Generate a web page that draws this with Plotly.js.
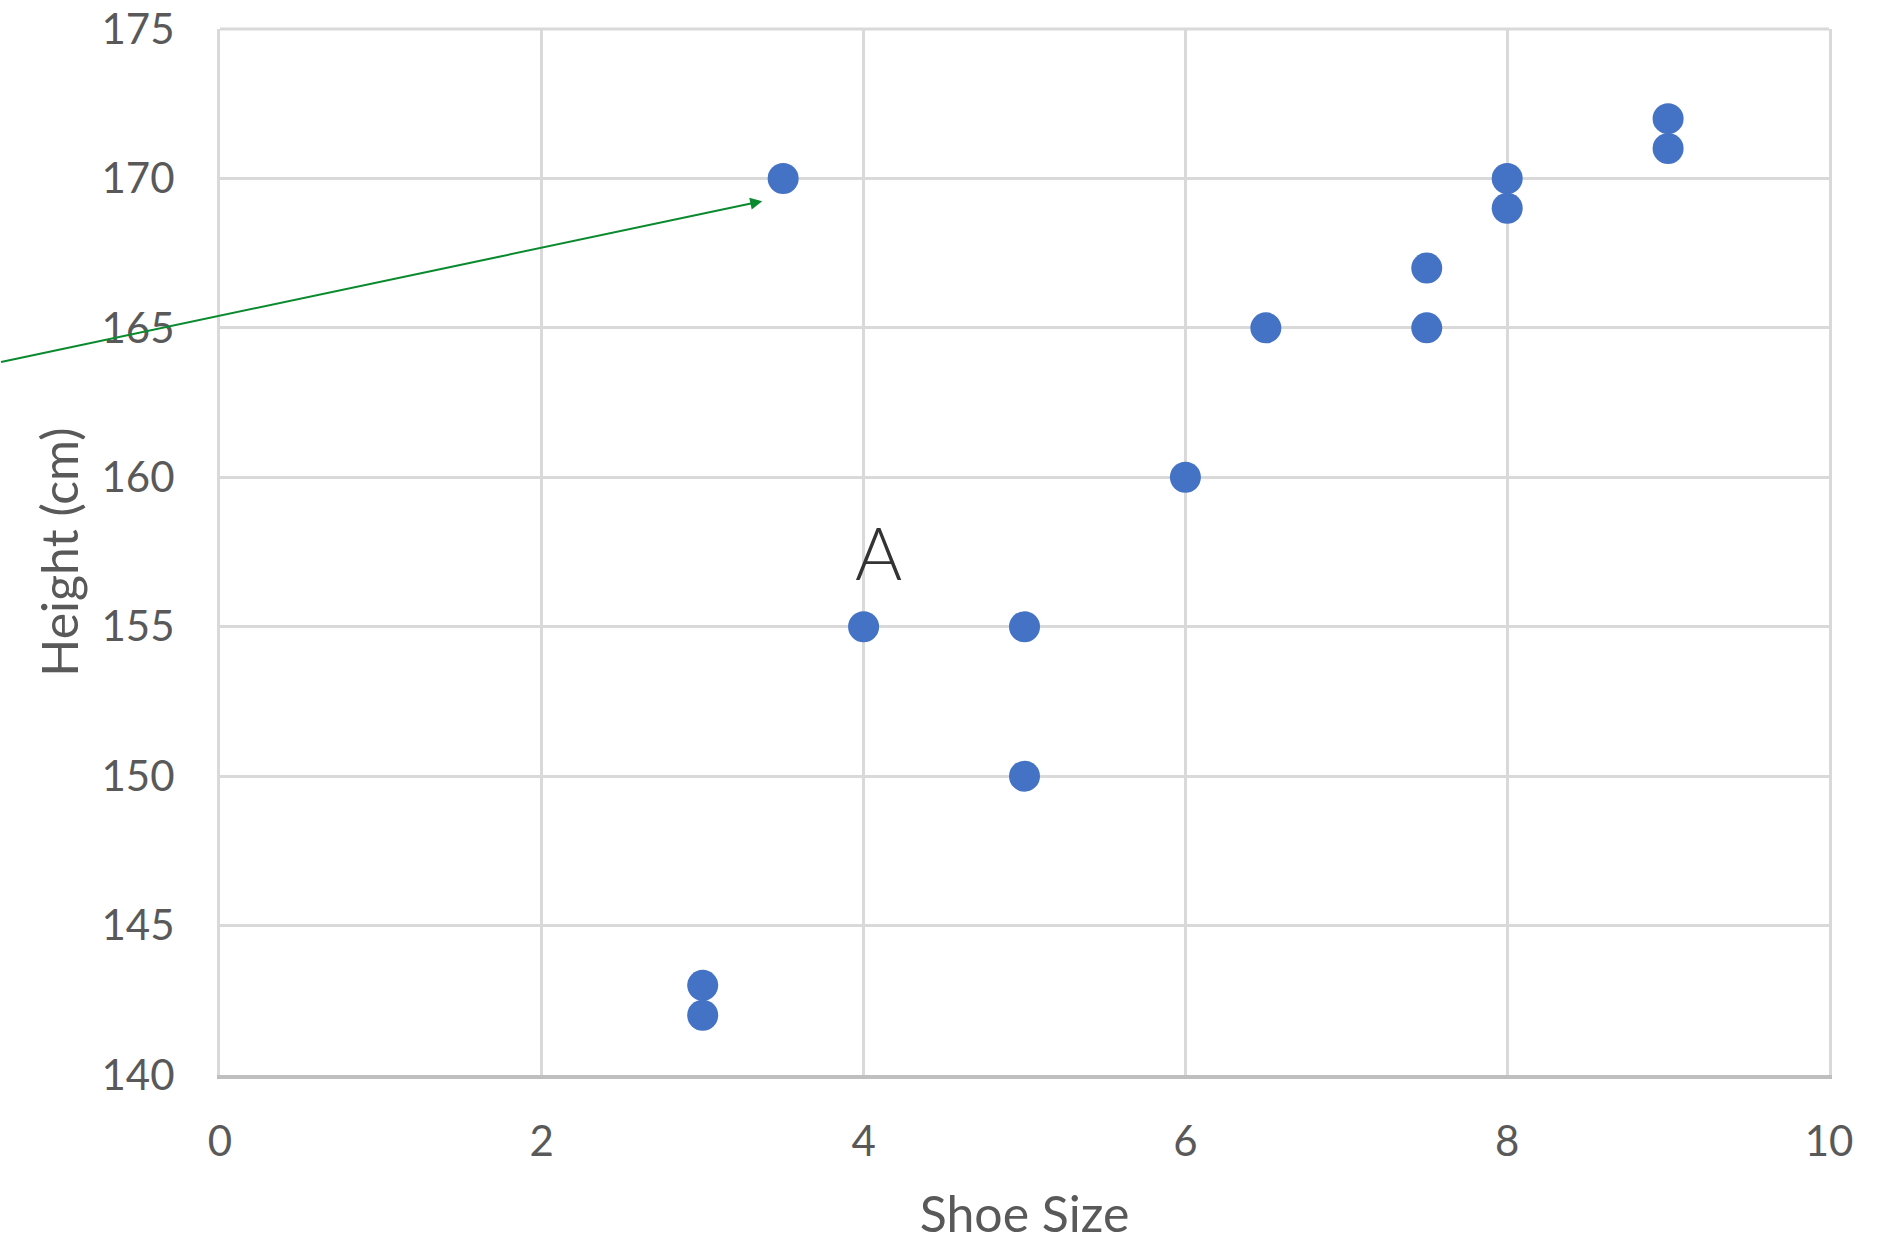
<!DOCTYPE html>
<html>
<head>
<meta charset="utf-8">
<script src="https://cdn.plot.ly/plotly-3.0.1.min.js"></script>
<style>html,body{margin:0;padding:0;background:#fff;}#chart{width:1902px;height:1243px;}</style>
</head>
<body>
<div id="chart"></div>
<script>
const shoeSize = [3.5, 9, 9, 8, 8, 7.5, 7.5, 6.5, 6, 4, 5, 5, 3, 3];
const heightCm = [170, 172, 171, 170, 169, 167, 165, 165, 160, 155, 155, 150, 143, 142];
const xTicks = [0, 2, 4, 6, 8, 10];
const yTicks = [140, 145, 150, 155, 160, 165, 170, 175];
const labelText = "A";
const labelPos = [4.09, 157.5];
const arrowHead = [3.37, 169.24];
const arrowTail = [-1.37, 163.85];

const tickFont = {family: "Lato, 'Open Sans', sans-serif", size: 42, color: "#595959"};
const titleFont = {family: "Lato, 'Open Sans', sans-serif", size: 50, color: "#595959"};

const data = [{
  type: "scatter",
  mode: "markers",
  x: shoeSize,
  y: heightCm,
  marker: {color: "#4472C4", size: 31, line: {width: 0}},
  hoverinfo: "x+y",
  cliponaxis: false
}];

const layout = {
  width: 1902,
  height: 1243,
  paper_bgcolor: "#ffffff",
  plot_bgcolor: "#ffffff",
  margin: {l: 220, r: 73, t: 29, b: 168, pad: 0},
  showlegend: false,
  xaxis: {
    range: [0, 10],
    tickvals: xTicks,
    ticktext: xTicks.map(String),
    ticks: "",
    ticklabelstandoff: 27,
    tickfont: tickFont,
    showgrid: true,
    gridcolor: "#d9d9d9",
    gridwidth: 3,
    zeroline: false,
    showline: true,
    linecolor: "#bfbfbf",
    linewidth: 4,
    mirror: false,
    title: {text: "Shoe Size", font: titleFont, standoff: 61},
    automargin: false,
    fixedrange: true
  },
  yaxis: {
    range: [140, 175],
    tickvals: yTicks,
    ticktext: yTicks.map(String),
    ticks: "",
    ticklabelstandoff: 34,
    tickfont: tickFont,
    showgrid: true,
    gridcolor: "#d9d9d9",
    gridwidth: 3,
    zeroline: false,
    showline: true,
    linecolor: "#d9d9d9",
    linewidth: 3,
    mirror: true,
    title: {text: "Height (cm)", font: titleFont, standoff: 8},
    automargin: false,
    fixedrange: true
  },
  shapes: [{
    type: "line", xref: "paper", yref: "paper", x0: 0, x1: 1, y0: 1, y1: 1,
    line: {color: "#d9d9d9", width: 3}, layer: "below"
  }],
  annotations: [
    {
      x: labelPos[0], y: labelPos[1], xref: "x", yref: "y",
      text: labelText, showarrow: false,
      font: {family: "Lato, 'Open Sans', sans-serif", size: 72, color: "#333333", weight: 300},
      xanchor: "center", yanchor: "middle"
    },
    {
      x: arrowHead[0], y: arrowHead[1], xref: "x", yref: "y",
      ax: arrowTail[0], ay: arrowTail[1], axref: "x", ayref: "y",
      text: "", showarrow: true,
      arrowhead: 2, arrowsize: 1.2, arrowwidth: 2, arrowcolor: "#0a8a2e",
      standoff: 0, startstandoff: 0
    }
  ]
};

Plotly.newPlot("chart", data, layout, {displayModeBar: false, staticPlot: true});
</script>
</body>
</html>
